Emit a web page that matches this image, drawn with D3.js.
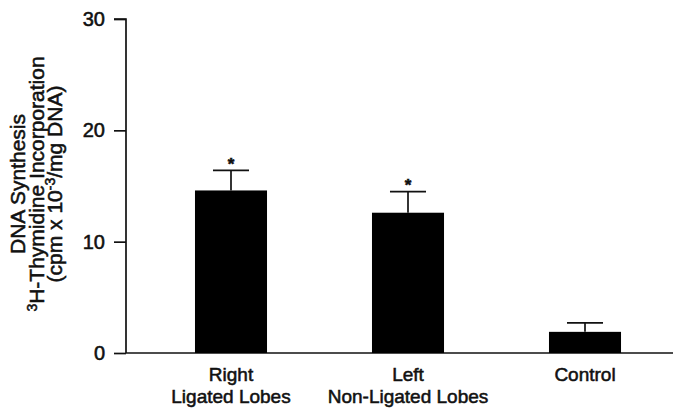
<!DOCTYPE html>
<html>
<head>
<meta charset="utf-8">
<script src="https://cdn.jsdelivr.net/npm/d3@7"></script>
<style>
  html, body { margin: 0; padding: 0; background: #fff; }
  svg { display: block; }
  text { font-family: "Liberation Sans", Arial, Helvetica, sans-serif; fill: #111; stroke: #111; stroke-width: 0.55px; }
</style>
</head>
<body>
<svg id="chart" width="673" height="409"></svg>
<script>
// DNA synthesis by group (mean and standard error)
const categories = ["Right|Ligated Lobes", "Left|Non-Ligated Lobes", "Control"];
const means = [14.6, 12.6, 1.9];
const errors = [1.8, 1.9, 0.8];
const significant = [true, true, false];
const yTicks = [0, 10, 20, 30];

const svg = d3.select("#chart");
const W = 673, H = 409;
const axisX = 126;

const y = d3.scaleLinear().domain([0, 30]).range([353, 19]);
const x = d3.scaleBand()
  .domain(categories)
  .range([142.5, 673.5])
  .paddingInner(0.593)
  .paddingOuter(0.2965);

const ink = "#111";

// Y axis
const yAxis = d3.axisLeft(y).tickValues(yTicks).tickSize(12).tickPadding(9).tickFormat(d3.format("d"));
const gy = svg.append("g").attr("transform", `translate(${axisX},0)`).call(yAxis);
gy.select(".domain").attr("stroke", ink).attr("stroke-width", 1.7).attr("d", `M-12,${y(30)}H0V${y(0)}`);
gy.selectAll(".tick line").attr("stroke", ink).attr("stroke-width", 1.7);
gy.selectAll(".tick text").attr("font-size", 20).attr("fill", ink)
  .attr("font-family", "'Liberation Sans', Arial, sans-serif");

// Baseline
svg.append("line")
  .attr("x1", axisX).attr("x2", W)
  .attr("y1", y(0)).attr("y2", y(0))
  .attr("stroke", ink).attr("stroke-width", 1.7);

// Bars
svg.selectAll("rect.bar").data(categories).join("rect")
  .attr("class", "bar")
  .attr("x", d => x(d))
  .attr("width", x.bandwidth())
  .attr("y", (d, i) => y(means[i]))
  .attr("height", (d, i) => y(0) - y(means[i]))
  .attr("fill", "#000");

// Error bars
const eb = svg.append("g").attr("stroke", ink).attr("stroke-width", 1.7);
categories.forEach((c, i) => {
  const cx = x(c) + x.bandwidth() / 2;
  const top = y(means[i] + errors[i]);
  const half = x.bandwidth() / 4;
  eb.append("line").attr("x1", cx).attr("x2", cx).attr("y1", y(means[i])).attr("y2", top);
  eb.append("line").attr("x1", cx - half).attr("x2", cx + half).attr("y1", top).attr("y2", top);
  if (significant[i]) {
    svg.append("text")
      .attr("x", cx).attr("y", top - 0.5)
      .attr("text-anchor", "middle")
      .attr("font-size", 17).attr("font-weight", "bold")
      .text("*");
  }
});

// Category labels
categories.forEach(c => {
  const lines = c.split("|");
  const cx = x(c) + x.bandwidth() / 2;
  const t = svg.append("text")
    .attr("x", cx)
    .attr("text-anchor", "middle")
    .attr("font-size", 19);
  lines.forEach((ln, k) => {
    t.append("tspan").attr("x", cx).attr("y", 381 + k * 21.5).text(ln);
  });
});

// Y axis title
const title = svg.append("g").attr("transform", "translate(0,184) rotate(-90)");
const tfs = 21;
title.append("text").attr("x", 0).attr("y", 25).attr("text-anchor", "middle").attr("font-size", tfs)
  .text("DNA Synthesis");
const t2 = title.append("text").attr("x", 0).attr("y", 44).attr("text-anchor", "middle").attr("font-size", tfs);
t2.append("tspan").attr("font-size", 14).attr("dy", -7).text("3");
t2.append("tspan").attr("dy", 7).text("H-Thymidine Incorporation");
const t3 = title.append("text").attr("x", 0).attr("y", 62).attr("text-anchor", "middle").attr("font-size", tfs);
t3.append("tspan").text("(cpm x 10");
t3.append("tspan").attr("font-size", 14).attr("dy", -7).text("-3");
t3.append("tspan").attr("dy", 7).text("/mg DNA)");
</script>
</body>
</html>
